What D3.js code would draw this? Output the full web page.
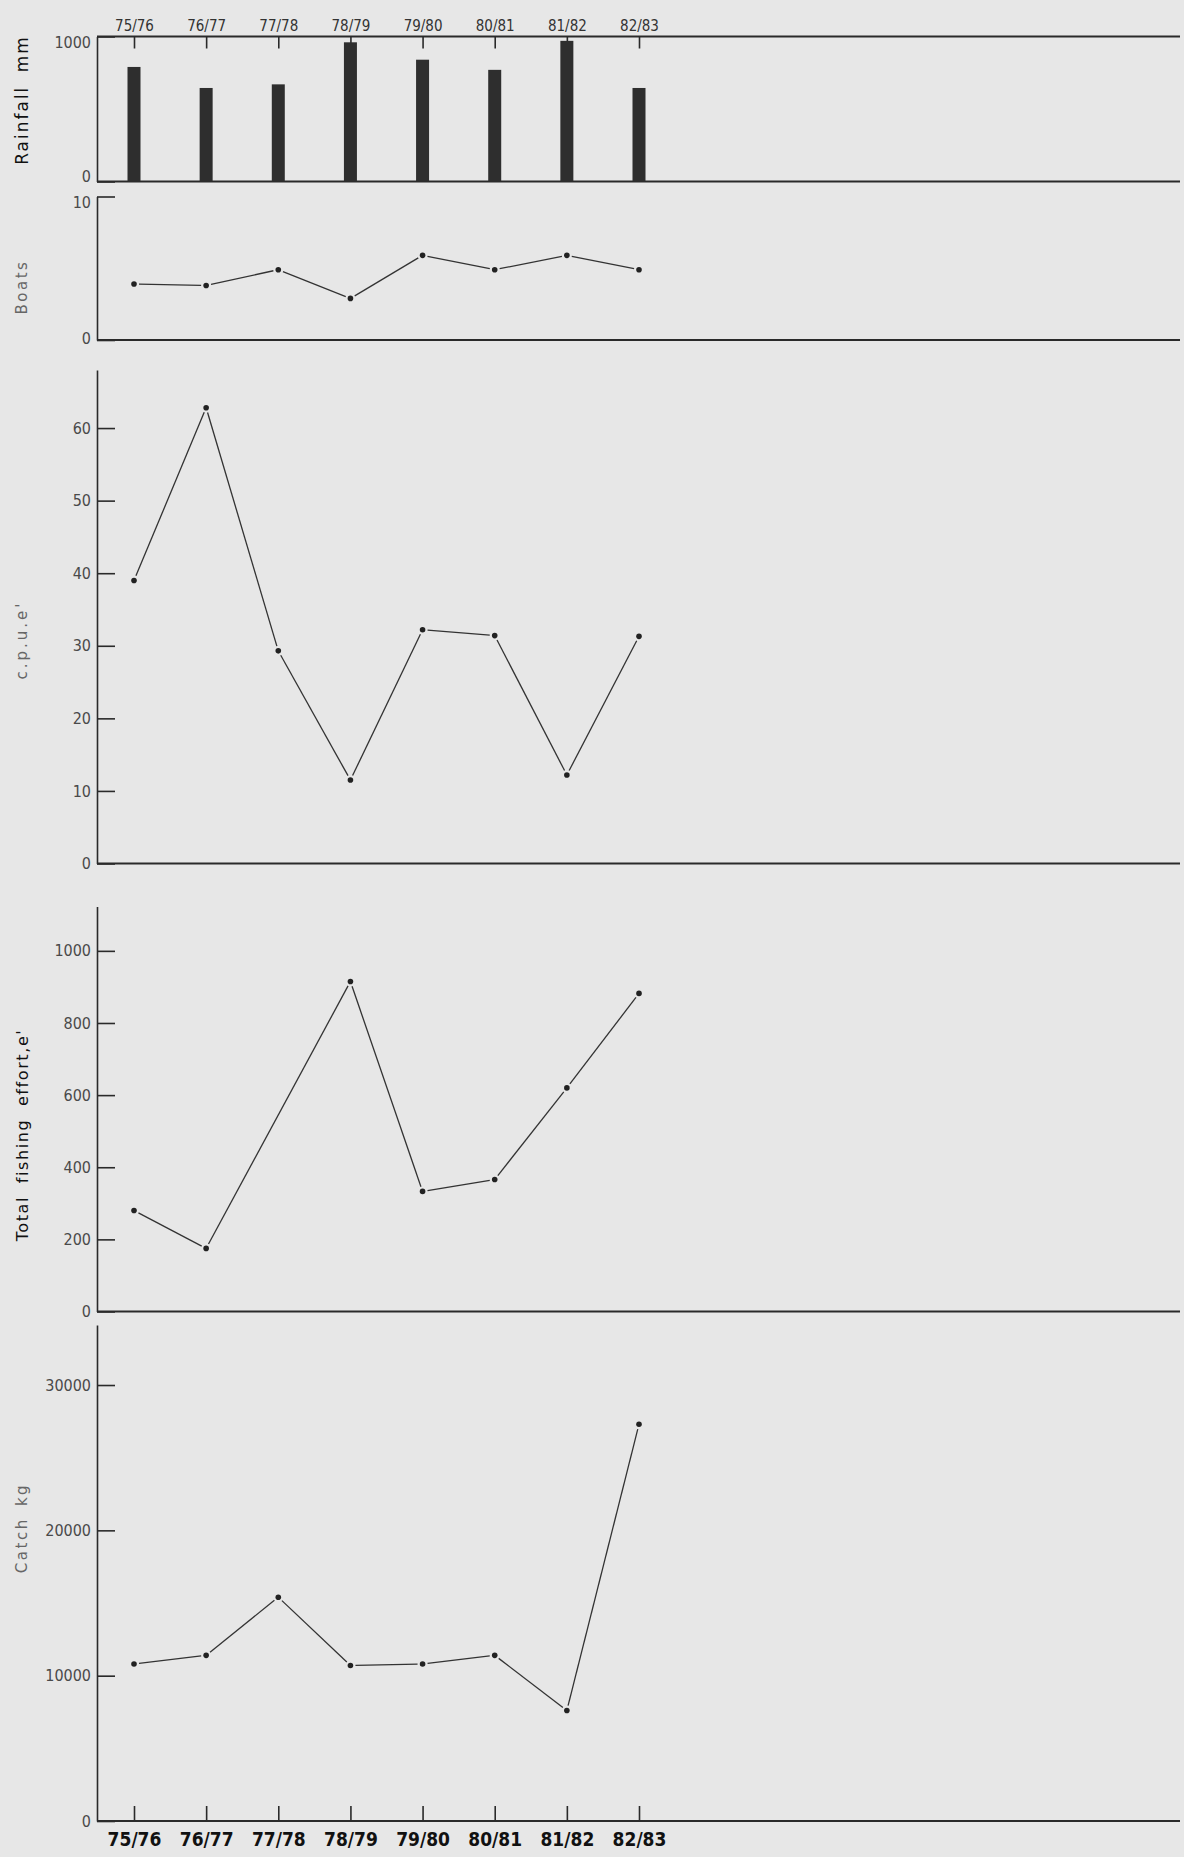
<!DOCTYPE html>
<html>
<head>
<meta charset="utf-8">
<script src="https://cdn.jsdelivr.net/npm/d3@7"></script>
<style>
  body { margin: 0; background: #e7e7e7; }
  svg { display: block; }
  .tick text { font-family: "DejaVu Sans Condensed", "Liberation Sans Narrow", "DejaVu Sans", sans-serif; fill: #4a4a4a; }
  .ttl { font-family: "DejaVu Sans", sans-serif; }
</style>
</head>
<body>
<div id="chart"></div>
<script>
// seasons along the x axis
const seasons = ["75/76", "76/77", "77/78", "78/79", "79/80", "80/81", "81/82", "82/83"];

// values
const rainfall = [790, 645, 670, 960, 840, 770, 970, 645];
const boats = [3.9, 3.8, 4.9, 2.9, 5.9, 4.9, 5.9, 4.9];
const cpue = [39, 62.8, 29.3, 11.5, 32.2, 31.4, 12.2, 31.3];
const effort = [280, 175, null, 915, 333, 366, 620, 882];
const catchKg = [10800, 11400, 15400, 10700, 10800, 11400, 7600, 27300];

// tick labels
const rainTicks = [0, 1000];
const boatTicks = [0, 10];
const cpueTicks = [0, 10, 20, 30, 40, 50, 60];
const effortTicks = [0, 200, 400, 600, 800, 1000];
const catchTicks = [0, 10000, 20000, 30000];

const width = 1184, height = 1857;
const axisX = 97, rightX = 1180;

const svg = d3.select("#chart").append("svg")
  .attr("width", width)
  .attr("height", height);

const x = d3.scalePoint().domain(seasons).range([134, 639]);

function panel(top, bottom, max, ticks, nudge) {
  const y = d3.scaleLinear().domain([0, max]).range([bottom, top]);
  const g = svg.append("g").attr("transform", `translate(${axisX},0)`);
  g.call(d3.axisLeft(y).tickValues(ticks).tickSizeInner(-18).tickSizeOuter(0).tickPadding(6).tickFormat(d3.format("d")))
    .call(a => a.select(".domain").attr("stroke", "#2a2a2a").attr("stroke-width", 1.6))
    .call(a => a.selectAll(".tick line").attr("stroke", "#2a2a2a").attr("stroke-width", 1.6))
    .call(a => a.selectAll(".tick text").attr("font-size", 16)
      .attr("transform", d => nudge && nudge[d] ? `translate(0,${nudge[d]})` : null));
  // baseline
  svg.append("line")
    .attr("x1", axisX).attr("x2", rightX)
    .attr("y1", y(0)).attr("y2", y(0))
    .attr("stroke", "#2a2a2a").attr("stroke-width", 1.8);
  return y;
}

function series(y, values) {
  const pts = values.map((v, i) => v == null ? null : [x(seasons[i]), y(v)]).filter(p => p);
  const gap = 5;
  const line = d3.line();
  d3.pairs(pts).forEach(([a, b]) => {
    const dx = b[0] - a[0], dy = b[1] - a[1];
    const len = Math.hypot(dx, dy);
    const ux = dx / len, uy = dy / len;
    svg.append("path")
      .attr("d", line([[a[0] + ux * gap, a[1] + uy * gap], [b[0] - ux * gap, b[1] - uy * gap]]))
      .attr("fill", "none")
      .attr("stroke", "#333")
      .attr("stroke-width", 1.3);
  });
  svg.append("g").selectAll("circle")
    .data(pts)
    .join("circle")
    .attr("cx", d => d[0])
    .attr("cy", d => d[1])
    .attr("r", 2.8)
    .attr("fill", "#222");
}

function title(text, cy, opts) {
  svg.append("text")
    .attr("class", "ttl")
    .attr("transform", `translate(${opts.x || 22},${cy}) rotate(-90)`)
    .attr("text-anchor", "middle")
    .attr("dominant-baseline", "central")
    .attr("font-size", opts.size)
    .attr("letter-spacing", opts.ls)
    .attr("word-spacing", opts.ws || 0)
    .attr("fill", opts.color)
    .text(text);
}

// rainfall
const yRain = panel(36.5, 181.5, 1000, rainTicks, { 0: -5, 1000: 6 });
svg.append("line")
  .attr("x1", axisX).attr("x2", rightX)
  .attr("y1", yRain(1000)).attr("y2", yRain(1000))
  .attr("stroke", "#2a2a2a").attr("stroke-width", 1.8);
svg.append("g")
  .attr("transform", `translate(0,${yRain(1000)})`)
  .call(d3.axisTop(x).tickSizeInner(-12).tickSizeOuter(0).tickPadding(6))
  .call(a => a.select(".domain").remove())
  .call(a => a.selectAll(".tick line").attr("stroke", "#2a2a2a").attr("stroke-width", 1.6))
  .call(a => a.selectAll(".tick text").attr("font-size", 15).style("fill", "#333"));
svg.append("g").selectAll("rect")
  .data(rainfall)
  .join("rect")
  .attr("x", (d, i) => x(seasons[i]) - 6.5)
  .attr("width", 13)
  .attr("y", d => yRain(d))
  .attr("height", d => yRain(0) - yRain(d))
  .attr("fill", "#2e2e2e");
title("Rainfall mm", 100, { size: 17, ls: 2, ws: 6, color: "#111" });

// boats
const yBoats = panel(196.5, 340, 10, boatTicks, { 10: 6, 0: -2 });
series(yBoats, boats);
title("Boats", 287, { size: 15, ls: 2.5, color: "#666" });

// catch per unit effort
const yCpue = panel(370, 863.5, 68, cpueTicks);
series(yCpue, cpue);
title("c.p.u.e'", 640, { size: 15, ls: 3, color: "#666" });

// total fishing effort
const yEffort = panel(906.5, 1311.5, 1123, effortTicks);
series(yEffort, effort);
title("Total fishing effort,e'", 1135, { size: 16, ls: 1.6, ws: 6, color: "#111" });

// catch
const yCatch = panel(1325, 1821, 34130, catchTicks);
series(yCatch, catchKg);
svg.append("g")
  .attr("transform", `translate(0,${yCatch(0)})`)
  .call(d3.axisBottom(x).tickSizeInner(-15).tickSizeOuter(0).tickPadding(12))
  .call(a => a.select(".domain").remove())
  .call(a => a.selectAll(".tick line").attr("stroke", "#2a2a2a").attr("stroke-width", 1.6))
  .call(a => a.selectAll(".tick text").attr("font-size", 19).attr("font-weight", "bold").style("fill", "#111"));
title("Catch kg", 1528, { size: 15, ls: 2.5, ws: 4, color: "#666" });
</script>
</body>
</html>
